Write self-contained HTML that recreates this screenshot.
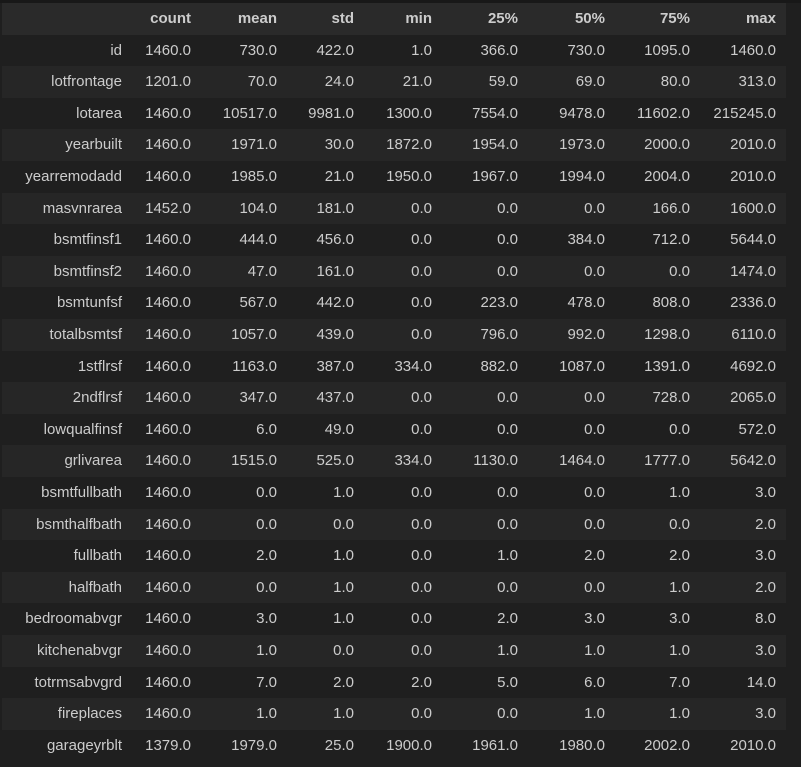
<!DOCTYPE html>
<html><head><meta charset="utf-8"><style>
body{margin:0;width:801px;height:767px;background:#1f1f1f;overflow:hidden;font-family:"Liberation Sans",sans-serif;font-size:15px;color:#cccccc}
#t{position:absolute;left:2px;top:3px;width:784px}
.r{position:absolute;left:0;width:784px;height:31.6px}
.c{position:absolute;top:0;line-height:31.6px;text-align:right;white-space:nowrap}
.h{font-weight:bold}
</style></head><body>
<div style="position:absolute;left:0;top:0;width:801px;height:3px;background:#181818"></div>
<div id="t"></div>
<script>
const columns=["count","mean","std","min","25%","50%","75%","max"];
const rowNames=["id","lotfrontage","lotarea","yearbuilt","yearremodadd","masvnrarea","bsmtfinsf1","bsmtfinsf2","bsmtunfsf","totalbsmtsf","1stflrsf","2ndflrsf","lowqualfinsf","grlivarea","bsmtfullbath","bsmthalfbath","fullbath","halfbath","bedroomabvgr","kitchenabvgr","totrmsabvgrd","fireplaces","garageyrblt"];
const values=[
[1460,730,422,1,366,730,1095,1460],
[1201,70,24,21,59,69,80,313],
[1460,10517,9981,1300,7554,9478,11602,215245],
[1460,1971,30,1872,1954,1973,2000,2010],
[1460,1985,21,1950,1967,1994,2004,2010],
[1452,104,181,0,0,0,166,1600],
[1460,444,456,0,0,384,712,5644],
[1460,47,161,0,0,0,0,1474],
[1460,567,442,0,223,478,808,2336],
[1460,1057,439,0,796,992,1298,6110],
[1460,1163,387,334,882,1087,1391,4692],
[1460,347,437,0,0,0,728,2065],
[1460,6,49,0,0,0,0,572],
[1460,1515,525,334,1130,1464,1777,5642],
[1460,0,1,0,0,0,1,3],
[1460,0,0,0,0,0,0,2],
[1460,2,1,0,1,2,2,3],
[1460,0,1,0,0,0,1,2],
[1460,3,1,0,2,3,3,8],
[1460,1,0,0,1,1,1,3],
[1460,7,2,2,5,6,7,14],
[1460,1,1,0,0,1,1,3],
[1379,1979,25,1900,1961,1980,2002,2010]];
const rights=[120,189,275,352,430,516,603,688,774];
const RH=31.6;
const t=document.getElementById('t');
function cell(row,text,i,bold){
  const d=document.createElement('div');
  d.className='c'+(bold?' h':'');
  d.style.right=(784-rights[i])+'px';
  d.textContent=text;
  
  
  row.appendChild(d);
}
const hr=document.createElement('div');
hr.className='r';hr.style.top='0px';hr.style.background='#2a2a2a';


columns.forEach((c,i)=>cell(hr,c,i+1,true));
t.appendChild(hr);
rowNames.forEach((n,ri)=>{
  const r=document.createElement('div');
  r.className='r';r.style.top=(RH*(ri+1))+'px';
  r.style.background=ri%2===0?'#1f1f1f':'#262626';
  
  
  cell(r,n,0,false);
  values[ri].forEach((v,i)=>cell(r,v.toFixed(1),i+1,false));
  t.appendChild(r);
});
</script>
</body></html>
